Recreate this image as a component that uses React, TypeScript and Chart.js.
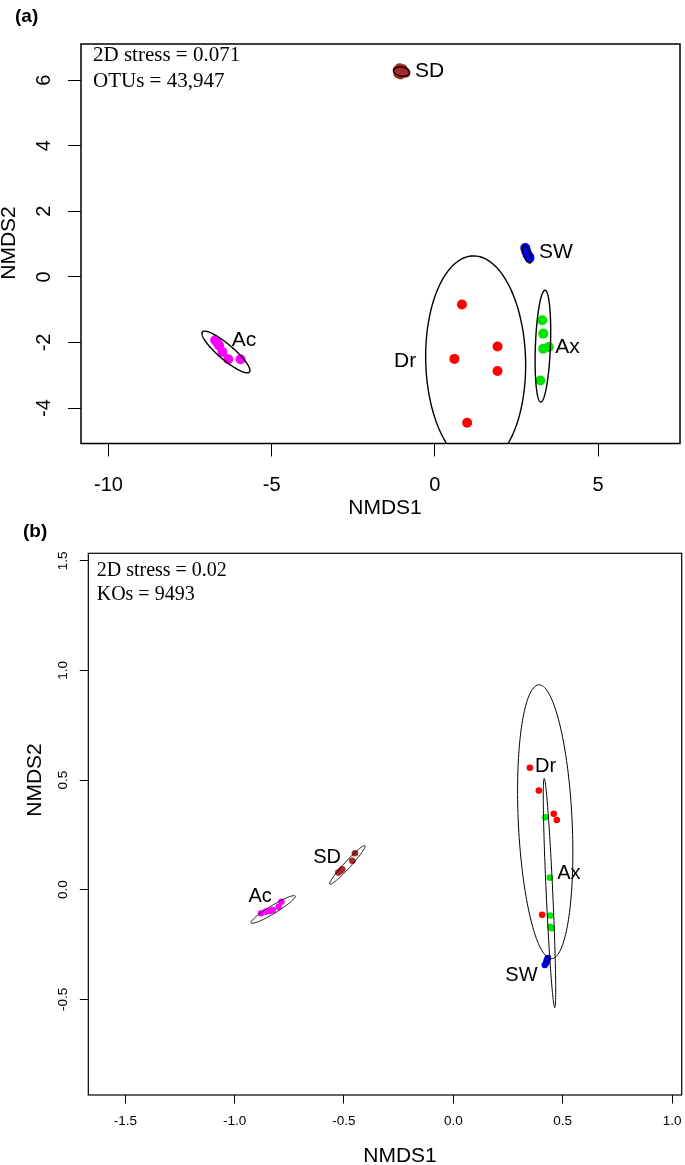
import React, { useEffect, useRef } from "react";
import { Chart, registerables } from "chart.js";

Chart.register(...registerables);

// ---------------- Panel (a): OTUs ----------------
const otuXTicks = [-10, -5, 0, 5];
const otuYTicks = [-4, -2, 0, 2, 4, 6];
const otuAc = [[-6.73, -1.93], [-6.67, -2.0], [-6.61, -2.09], [-6.51, -2.29], [-6.33, -2.51], [-5.95, -2.51]];
const otuDr = [[0.83, -0.84], [0.6, -2.5], [1.92, -2.12], [1.92, -2.87], [0.99, -4.45]];
const otuAx = [[3.29, -1.32], [3.32, -1.73], [3.32, -2.19], [3.49, -2.14], [3.23, -3.16]];
const otuSW = [[2.77, 0.88], [2.8, 0.78], [2.84, 0.68], [2.88, 0.62], [2.9, 0.58]];
const otuSD = [[-1.14, 6.3], [-1.08, 6.36], [-0.98, 6.33], [-0.9, 6.22], [-1.05, 6.17], [-1.12, 6.2]];
// ellipses: [cx, cy, semi-major, semi-minor, angle(deg)]
const otuEllipses = [
  [-6.4, -2.29, 0.944, 0.23, -40.3],
  [1.25, -2.56, 3.2, 1.53, 91.5],
  [3.31, -2.11, 1.705, 0.23, 87.8],
  [2.82, 0.69, 0.283, 0.1, -69],
  [-1.02, 6.26, 0.24, 0.14, -10],
];
// labels: [text, x, y, align]
const otuLabels = [
  ["SD", -0.61, 6.27, "left"],
  ["SW", 3.19, 0.76, "left"],
  ["Ax", 3.69, -2.14, "left"],
  ["Ac", -6.22, -1.93, "left"],
  ["Dr", -0.57, -2.57, "right"],
];
const otuNotes = ["2D stress = 0.071", "OTUs = 43,947"];

// ---------------- Panel (b): KOs ----------------
const koXTicks = [-1.5, -1.0, -0.5, 0.0, 0.5, 1.0];
const koYTicks = [-0.5, 0.0, 0.5, 1.0, 1.5];
const koAc = [[-0.879, -0.107], [-0.857, -0.1], [-0.84, -0.097], [-0.826, -0.093], [-0.799, -0.078], [-0.786, -0.055]];
const koDr = [[0.35, 0.556], [0.391, 0.452], [0.459, 0.346], [0.473, 0.318], [0.406, -0.114]];
const koAx = [[0.421, 0.33], [0.441, 0.055], [0.443, -0.118], [0.443, -0.169], [0.449, -0.176]];
const koSW = [[0.418, -0.343], [0.424, -0.335], [0.426, -0.328], [0.428, -0.32], [0.432, -0.312]];
const koSD = [[-0.526, 0.078], [-0.515, 0.086], [-0.508, 0.093], [-0.462, 0.132], [-0.45, 0.166]];
const koEllipses = [
  [0.42, 0.31, 0.625, 0.123, 92.7],
  [0.4395, -0.015, 0.523, 0.015, 92.65],
  [0.425, -0.327, 0.022, 0.008, 60],
  [-0.824, -0.09, 0.118, 0.018, 31.3],
  [-0.4845, 0.113, 0.119, 0.015, 47.5],
];
const koLabels = [
  ["Dr", 0.373, 0.564, "left"],
  ["Ax", 0.475, 0.075, "left"],
  ["SW", 0.385, -0.389, "right"],
  ["Ac", -0.937, -0.032, "left"],
  ["SD", -0.641, 0.148, "left"],
];
const koNotes = ["2D stress = 0.02", "KOs = 9493"];

const groupColors = {
  Ac: "#FF00FF",
  Dr: "#FF0000",
  Ax: "#00E600",
  SW: "#0000FF",
  SD: "#A52A2A",
};

const SANS = "'Liberation Sans', Arial, sans-serif";
const SERIF = "'Liberation Serif', 'Times New Roman', serif";

type PanelCfg = {
  letter: string;
  width: number;
  height: number;
  area: { left: number; top: number; right: number; bottom: number };
  xRange: [number, number];
  yRange: [number, number];
  xTicks: number[];
  yTicks: number[];
  fmt: (v: number) => string;
  groups: { name: string; pts: number[][] }[];
  ellipses: number[][];
  labels: any[][];
  notes: string[];
  pointRadius: number;
  boxWidth: number;
  ellipseWidth: number;
  tickLength: number;
  tickFont: number;
  titleFont: number;
  labelFont: number;
  noteFont: number;
  xTickY: number;
  xTitle: { x: number; y: number };
  yTickX: number;
  yTitle: { x: number; y: number };
  noteX: number;
  noteY: number[];
  letterPos: { x: number; y: number };
};

function makePlugin(cfg: PanelCfg) {
  return {
    id: "nmdsDecor" + cfg.letter,
    afterDatasetsDraw(chart: any) {
      const { ctx, chartArea } = chart;
      const xs = chart.scales.x;
      const ys = chart.scales.y;
      ctx.save();
      ctx.beginPath();
      ctx.rect(chartArea.left, chartArea.top, chartArea.right - chartArea.left, chartArea.bottom - chartArea.top);
      ctx.clip();
      ctx.strokeStyle = "#000";
      ctx.lineWidth = cfg.ellipseWidth;
      for (const [cx, cy, a, b, ang] of cfg.ellipses) {
        const th = (ang * Math.PI) / 180;
        ctx.beginPath();
        const N = 180;
        for (let i = 0; i <= N; i++) {
          const t = (i / N) * Math.PI * 2;
          const dx = a * Math.cos(th) * Math.cos(t) - b * Math.sin(th) * Math.sin(t);
          const dy = a * Math.sin(th) * Math.cos(t) + b * Math.cos(th) * Math.sin(t);
          const px = xs.getPixelForValue(cx + dx);
          const py = ys.getPixelForValue(cy + dy);
          if (i === 0) ctx.moveTo(px, py);
          else ctx.lineTo(px, py);
        }
        ctx.closePath();
        ctx.stroke();
      }
      ctx.restore();

      // group labels
      ctx.save();
      ctx.fillStyle = "#000";
      ctx.font = `${cfg.labelFont}px ${SANS}`;
      ctx.textBaseline = "middle";
      for (const [text, lx, ly, align] of cfg.labels) {
        ctx.textAlign = align;
        ctx.fillText(text, xs.getPixelForValue(lx), ys.getPixelForValue(ly));
      }
      ctx.restore();
    },
    afterDraw(chart: any) {
      const { ctx, chartArea } = chart;
      const xs = chart.scales.x;
      const ys = chart.scales.y;
      ctx.save();
      // box
      ctx.strokeStyle = "#000";
      ctx.lineWidth = cfg.boxWidth;
      ctx.strokeRect(chartArea.left, chartArea.top, chartArea.right - chartArea.left, chartArea.bottom - chartArea.top);
      ctx.fillStyle = "#000";
      // x tick labels
      ctx.font = `${cfg.tickFont}px ${SANS}`;
      ctx.textAlign = "center";
      ctx.textBaseline = "middle";
      for (const v of cfg.xTicks) {
        ctx.fillText(cfg.fmt(v), xs.getPixelForValue(v), cfg.xTickY);
      }
      // y tick labels (rotated)
      for (const v of cfg.yTicks) {
        ctx.save();
        ctx.translate(cfg.yTickX, ys.getPixelForValue(v));
        ctx.rotate(-Math.PI / 2);
        ctx.fillText(cfg.fmt(v), 0, 0);
        ctx.restore();
      }
      // axis titles
      ctx.font = `${cfg.titleFont}px ${SANS}`;
      ctx.fillText("NMDS1", cfg.xTitle.x, cfg.xTitle.y);
      ctx.save();
      ctx.translate(cfg.yTitle.x, cfg.yTitle.y);
      ctx.rotate(-Math.PI / 2);
      ctx.fillText("NMDS2", 0, 0);
      ctx.restore();
      // notes
      ctx.font = `${cfg.noteFont}px ${SERIF}`;
      ctx.textAlign = "left";
      ctx.textBaseline = "alphabetic";
      cfg.notes.forEach((n, i) => ctx.fillText(n, cfg.noteX, cfg.noteY[i]));
      // panel letter
      ctx.font = `bold 19px ${SANS}`;
      ctx.textBaseline = "middle";
      ctx.fillText(cfg.letter, cfg.letterPos.x, cfg.letterPos.y);
      ctx.restore();
    },
  };
}

function Panel({ cfg, top }: { cfg: PanelCfg; top: number }) {
  const ref = useRef<HTMLCanvasElement | null>(null);
  useEffect(() => {
    if (!ref.current) return;
    const a = cfg.area;
    const chart = new Chart(ref.current, {
      type: "scatter",
      data: {
        datasets: cfg.groups.map((g) => ({
          label: g.name,
          data: g.pts.map(([x, y]) => ({ x, y })),
          pointRadius: cfg.pointRadius,
          pointHoverRadius: cfg.pointRadius,
          pointBackgroundColor: (groupColors as any)[g.name],
          pointBorderWidth: 0,
          pointBorderColor: "rgba(0,0,0,0)",
          showLine: false,
        })),
      },
      options: {
        responsive: false,
        animation: false,
        devicePixelRatio: 1,
        events: [],
        layout: { padding: { top: a.top, left: 0, right: cfg.width - a.right, bottom: 0 } },
        plugins: { legend: { display: false }, tooltip: { enabled: false } },
        scales: {
          x: {
            type: "linear",
            min: cfg.xRange[0],
            max: cfg.xRange[1],
            afterBuildTicks: (s: any) => {
              s.ticks = cfg.xTicks.map((v) => ({ value: v }));
            },
            afterFit: (s: any) => {
              s.height = cfg.height - a.bottom;
            },
            grid: { drawOnChartArea: false, drawTicks: true, tickLength: cfg.tickLength, tickColor: "#000", tickWidth: 1 },
            border: { display: false },
            ticks: { display: false },
          },
          y: {
            type: "linear",
            min: cfg.yRange[0],
            max: cfg.yRange[1],
            afterBuildTicks: (s: any) => {
              s.ticks = cfg.yTicks.map((v) => ({ value: v }));
            },
            afterFit: (s: any) => {
              s.width = a.left;
            },
            grid: { drawOnChartArea: false, drawTicks: true, tickLength: cfg.tickLength, tickColor: "#000", tickWidth: 1 },
            border: { display: false },
            ticks: { display: false },
          },
        },
      },
      plugins: [makePlugin(cfg)],
    } as any);
    return () => chart.destroy();
  }, [cfg]);
  return (
    <canvas
      ref={ref}
      width={cfg.width}
      height={cfg.height}
      style={{ position: "absolute", left: 0, top, width: cfg.width, height: cfg.height }}
    />
  );
}

const panelA: PanelCfg = {
  letter: "(a)",
  width: 685,
  height: 515,
  area: { left: 81, top: 44, right: 684, bottom: 443.5 },
  xRange: [-10.84, 7.51],
  yRange: [-5.08, 7.1],
  xTicks: otuXTicks,
  yTicks: otuYTicks,
  fmt: (v) => String(v),
  groups: [
    { name: "Ac", pts: otuAc },
    { name: "Dr", pts: otuDr },
    { name: "Ax", pts: otuAx },
    { name: "SW", pts: otuSW },
    { name: "SD", pts: otuSD },
  ],
  ellipses: otuEllipses,
  labels: otuLabels,
  notes: otuNotes,
  pointRadius: 5,
  boxWidth: 1.5,
  ellipseWidth: 1.4,
  tickLength: 13,
  tickFont: 20,
  titleFont: 21,
  labelFont: 21,
  noteFont: 21,
  xTickY: 485,
  xTitle: { x: 385, y: 508 },
  yTickX: 44,
  yTitle: { x: 9, y: 243 },
  noteX: 93,
  noteY: [60.7, 86.7],
  letterPos: { x: 15, y: 17 },
};

const panelB: PanelCfg = {
  letter: "(b)",
  width: 685,
  height: 650,
  area: { left: 88.3, top: 38.3, right: 684, bottom: 580 },
  xRange: [-1.669, 1.044],
  yRange: [-0.936, 1.534],
  xTicks: koXTicks,
  yTicks: koYTicks,
  fmt: (v) => v.toFixed(1),
  groups: [
    { name: "Ac", pts: koAc },
    { name: "SD", pts: koSD },
    { name: "Dr", pts: koDr },
    { name: "Ax", pts: koAx },
    { name: "SW", pts: koSW },
  ],
  ellipses: koEllipses,
  labels: koLabels,
  notes: koNotes,
  pointRadius: 3.3,
  boxWidth: 1.2,
  ellipseWidth: 1,
  tickLength: 8.5,
  tickFont: 13.5,
  titleFont: 21,
  labelFont: 20,
  noteFont: 20,
  xTickY: 606.7,
  xTitle: { x: 400, y: 641 },
  yTickX: 63.3,
  yTitle: { x: 35.5, y: 265 },
  noteX: 96.7,
  noteY: [61, 85],
  letterPos: { x: 23, y: 17 },
};

export default function App() {
  return (
    <div style={{ position: "absolute", left: 0, top: 0, width: 685, height: 1165, background: "#fff" }}>
      <Panel cfg={panelA} top={0} />
      <Panel cfg={panelB} top={515} />
    </div>
  );
}
